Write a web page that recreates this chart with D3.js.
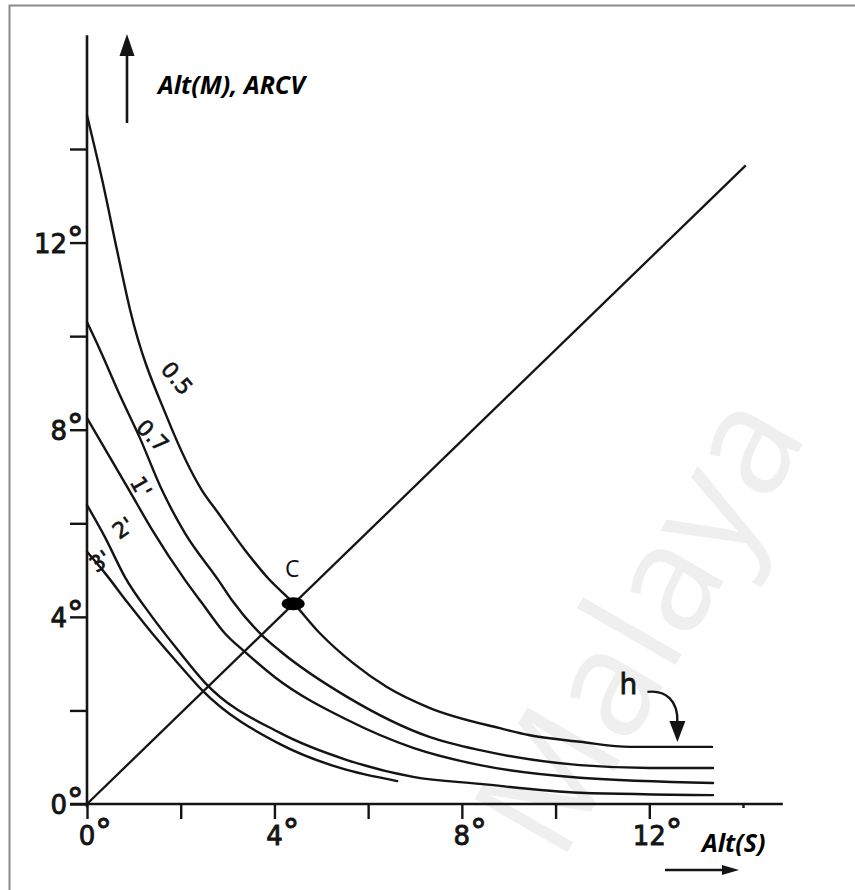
<!DOCTYPE html>
<html>
<head>
<meta charset="utf-8">
<script src="https://cdn.jsdelivr.net/npm/d3@7"></script>
<style>
  html, body { margin: 0; padding: 0; background: #fff; }
  svg { display: block; }
</style>
</head>
<body>
<svg id="chart" width="855" height="890"></svg>
<script>
// ---- data: Alt(S) in degrees (x) and Alt(M)/ARCV in degrees (y) ----
const curveNames = ["0.5", "0.7", "1'", "2'", "3'"];

const altS_05 = [0, 0.34, 0.64, 0.92, 1.73, 2.45, 2.80, 3.37, 3.86, 4.40, 4.97, 5.68, 6.40, 7.32, 8.81, 9.45, 10.52, 11.59, 13.34];
const arcv_05 = [14.72, 13.27, 11.84, 10.56, 8.21, 6.71, 6.22, 5.43, 4.83, 4.30, 3.65, 3.01, 2.50, 2.05, 1.62, 1.47, 1.33, 1.22, 1.22];

const altS_07 = [0, 0.28, 0.70, 1.13, 1.60, 2.09, 2.80, 3.09, 3.73, 4.12, 5.55, 7.32, 8.39, 10.52, 12.01, 13.36];
const arcv_07 = [10.30, 9.70, 8.74, 7.82, 6.71, 5.79, 4.79, 4.36, 3.61, 3.27, 2.29, 1.43, 1.15, 0.83, 0.77, 0.77];

const altS_1 = [0, 0.92, 1.39, 2.09, 2.45, 2.94, 3.37, 4.01, 5.55, 6.96, 8.39, 10.52, 13.36];
const arcv_1 = [8.25, 6.67, 5.86, 4.79, 4.30, 3.65, 3.25, 2.71, 1.80, 1.20, 0.83, 0.56, 0.45];

const altS_2 = [0, 0.38, 0.81, 1.39, 1.94, 2.52, 4.12, 5.55, 6.96, 8.39, 10.52, 13.36];
const arcv_2 = [6.39, 5.71, 4.85, 4.00, 3.29, 2.59, 1.52, 0.94, 0.58, 0.43, 0.24, 0.19];

const altS_3 = [0, 0.38, 0.87, 1.39, 1.94, 2.45, 4.12, 5.40, 6.62];
const arcv_3 = [5.39, 4.94, 4.30, 3.65, 3.01, 2.44, 1.28, 0.77, 0.49];

// straight line Alt(M) vs Alt(S) through the origin, and its crossing point C
const diagAltS = [0, 14.06];
const diagArcv = [0, 13.65];
const pointC = [4.40, 4.28];

// curve label anchors (data units) and their rotation
const labelAltS = [1.92, 1.40, 1.15, 0.77, 0.28];
const labelArcv = [9.10, 7.87, 6.78, 5.90, 5.19];
const labelAngle = [50, 45, 60, -35, -35];

// axes
const xTicks = [0, 2, 4, 6, 8, 10, 12, 14];
const yTicks = [0, 2, 4, 6, 8, 10, 12, 14];
const xTickLabels = ["0", "", "4", "", "8", "", "12", ""];
const yTickLabels = ["0", "", "4", "", "8", "", "12", ""];

// where the "h" arrow points on the 0.5 curve
const hPoint = [12.6, 1.22];

// ---- drawing ----
const svg = d3.select("#chart");
const ink = "#141414";

const x = d3.scaleLinear().domain([0, 14]).range([87, 743]);
const y = d3.scaleLinear().domain([0, 14]).range([804, 149]);

// page frame (left and top edges)
svg.append("path")
  .attr("d", "M9.5,890 V5.5 H855")
  .attr("fill", "none")
  .attr("stroke", "#8a8a8a")
  .attr("stroke-width", 2);

// faint watermark
svg.append("text")
  .attr("transform", "translate(560,865) rotate(-60)")
  .attr("font-family", "'Open Sans', 'Noto Sans', sans-serif")
  .attr("font-size", 150)
  .attr("fill", "#efefef")
  .text("Malaya");

// x axis
const gx = svg.append("g")
  .attr("transform", `translate(0,${y(0)})`)
  .call(d3.axisBottom(x).tickValues(xTicks).tickSize(15).tickSizeOuter(0).tickFormat(""));
gx.select(".domain").remove();
gx.selectAll(".tick line")
  .attr("stroke", ink)
  .attr("stroke-width", 2.4)
  .attr("y2", d => d === 14 ? 4 : 15);

svg.append("line")
  .attr("x1", x(-0.36)).attr("x2", x(14.85))
  .attr("y1", y(0)).attr("y2", y(0))
  .attr("stroke", ink).attr("stroke-width", 2.6);

// y axis
const gy = svg.append("g")
  .attr("transform", `translate(${x(0)},0)`)
  .call(d3.axisLeft(y).tickValues(yTicks).tickSize(17).tickSizeOuter(0).tickFormat(""));
gy.select(".domain").remove();
gy.selectAll(".tick line")
  .attr("stroke", ink)
  .attr("stroke-width", 2.4);

svg.append("line")
  .attr("x1", x(0)).attr("x2", x(0))
  .attr("y1", y(-0.07)).attr("y2", y(16.43))
  .attr("stroke", ink).attr("stroke-width", 2.6);

// tick labels with raised degree sign
const tickFont = "'DejaVu Sans', sans-serif";
function degreeLabel(sel, txt) {
  const t = sel.append("text")
    .attr("font-family", tickFont)
    .attr("font-size", 26)
    .attr("fill", ink)
    .attr("stroke", ink)
    .attr("stroke-width", 0.9);
  t.append("tspan").attr("class", "num").text(txt);
  t.append("tspan").attr("font-size", 33).attr("dy", -2).text("°");
  return t;
}

xTicks.forEach((v, i) => {
  if (!xTickLabels[i]) return;
  const t = degreeLabel(svg, xTickLabels[i]);
  const w = t.select(".num").node().getComputedTextLength();
  t.attr("x", x(v) - w / 2).attr("y", y(0) + 41);
});

yTicks.forEach((v, i) => {
  if (!yTickLabels[i]) return;
  const t = degreeLabel(svg, yTickLabels[i]);
  const w = t.select(".num").node().getComputedTextLength();
  t.attr("x", x(0) - 20 - w).attr("y", y(v) + 10);
});

// curves
const line = d3.line()
  .x(d => x(d[0]))
  .y(d => y(d[1]))
  .curve(d3.curveMonotoneX);

const series = [
  d3.zip(altS_05, arcv_05),
  d3.zip(altS_07, arcv_07),
  d3.zip(altS_1, arcv_1),
  d3.zip(altS_2, arcv_2),
  d3.zip(altS_3, arcv_3)
];

svg.append("g").selectAll("path")
  .data(series)
  .join("path")
  .attr("d", line)
  .attr("fill", "none")
  .attr("stroke", ink)
  .attr("stroke-width", 2.4)
  .attr("stroke-linecap", "round");

// diagonal
svg.append("path")
  .attr("d", d3.line().x(d => x(d[0])).y(d => y(d[1]))(d3.zip(diagAltS, diagArcv)))
  .attr("fill", "none")
  .attr("stroke", ink)
  .attr("stroke-width", 2.3);

// curve labels
curveNames.forEach((name, i) => {
  svg.append("text")
    .attr("transform", `translate(${x(labelAltS[i])},${y(labelArcv[i])}) rotate(${labelAngle[i]})`)
    .attr("text-anchor", "middle")
    .attr("dy", "0.35em")
    .attr("font-family", tickFont)
    .attr("font-size", 22)
    .attr("fill", ink)
    .attr("stroke", ink)
    .attr("stroke-width", 0.6)
    .text(name);
});

// point C
svg.append("ellipse")
  .attr("cx", x(pointC[0])).attr("cy", y(pointC[1]))
  .attr("rx", 11.5).attr("ry", 6.5)
  .attr("fill", "#000");
svg.append("text")
  .attr("x", x(pointC[0]) - 1).attr("y", y(pointC[1]) - 27)
  .attr("text-anchor", "middle")
  .attr("font-family", "'Open Sans', 'Noto Sans', sans-serif")
  .attr("font-size", 23)
  .attr("fill", "#111")
  .text("C");

// "h" with curved arrow onto the 0.5 curve
const hx = x(hPoint[0]), hy = y(hPoint[1]) - 5;
svg.append("path")
  .attr("d", `M${hx - 30},${hy - 50} C${hx - 12},${hy - 52} ${hx + 1},${hy - 42} ${hx},${hy - 19}`)
  .attr("fill", "none").attr("stroke", ink).attr("stroke-width", 2.4);
svg.append("path")
  .attr("d", `M${hx - 8},${hy - 21} L${hx + 8},${hy - 21} L${hx},${hy} Z`)
  .attr("fill", ink);
svg.append("text")
  .attr("x", hx - 49).attr("y", hy - 48)
  .attr("text-anchor", "middle")
  .attr("font-family", tickFont)
  .attr("font-size", 28)
  .attr("fill", ink)
  .attr("stroke", ink)
  .attr("stroke-width", 0.8)
  .text("h");

// axis titles with arrows
const titleFont = "'Open Sans', 'Noto Sans', sans-serif";
svg.append("line")
  .attr("x1", 127).attr("x2", 127).attr("y1", 123).attr("y2", 50)
  .attr("stroke", ink).attr("stroke-width", 2.6);
svg.append("path")
  .attr("d", "M119.5,56 L134.5,56 L127,34 Z")
  .attr("fill", ink);
svg.append("text")
  .attr("x", 158).attr("y", 94)
  .attr("font-family", titleFont)
  .attr("font-weight", "bold")
  .attr("font-style", "italic")
  .attr("font-size", 25)
  .attr("fill", "#000")
  .text("Alt(M), ARCV");

svg.append("line")
  .attr("x1", 665).attr("x2", 728).attr("y1", 870).attr("y2", 870)
  .attr("stroke", ink).attr("stroke-width", 2.6);
svg.append("path")
  .attr("d", "M722,865 L722,875 L739,870 Z")
  .attr("fill", ink);
svg.append("text")
  .attr("x", 702).attr("y", 852)
  .attr("font-family", titleFont)
  .attr("font-weight", "bold")
  .attr("font-style", "italic")
  .attr("font-size", 25)
  .attr("fill", "#000")
  .text("Alt(S)");
</script>
</body>
</html>
